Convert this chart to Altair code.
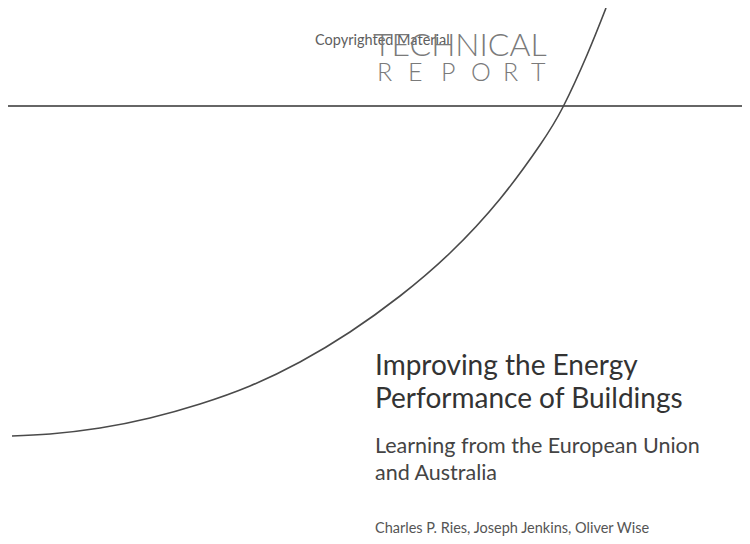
import altair as alt
import pandas as pd

# Arc (page pixel coordinates)
arc_x = [12, 50, 100, 150, 200, 250, 300, 350, 400, 450, 500, 540, 563, 587, 606]
arc_y = [436, 434, 428, 418, 404, 386, 362, 332, 296, 253, 199, 145, 107, 55, 8]

# Horizontal rule
rule_x = [8]
rule_x2 = [750]
rule_y = [106]

# Spaced heading letters
report_letters = ["R", "E", "P", "O", "R", "T"]
report_x = [377, 408, 441, 471, 503, 531]
report_y = [81, 81, 81, 81, 81, 81]

# Texts
texts = ["Copyrighted Material", "TECHNICAL",
         "Improving the Energy", "Performance of Buildings",
         "Learning from the European Union", "and Australia",
         "Charles P. Ries, Joseph Jenkins, Oliver Wise"]
text_x = [315, 373, 375, 375, 375, 375, 375]
text_y = [45, 56, 375, 408, 453, 480, 533]
text_size = [14.5, 32, 28, 28, 21.5, 21.5, 14.5]
text_color = ["#5e5e5e", "#7a7a7a", "#333333", "#333333",
              "#444444", "#444444", "#555555"]
text_weight = [400, 300, 400, 400, 400, 400, 400]

xs = alt.Scale(domain=[8, 742], range=[0, 734])
ys = alt.Scale(domain=[8, 536], range=[0, 528])

arc_df = pd.DataFrame({"x": arc_x, "y": arc_y})
rule_df = pd.DataFrame({"x": rule_x, "x2": rule_x2, "y": rule_y})
rep_df = pd.DataFrame({"x": report_x, "y": report_y, "t": report_letters})

arc = alt.Chart(arc_df).mark_line(
    color="#4a4a4a", strokeWidth=1.6, interpolate="natural", clip=False
).encode(
    x=alt.X("x:Q", scale=xs, axis=None),
    y=alt.Y("y:Q", scale=ys, axis=None),
)

rule = alt.Chart(rule_df).mark_rule(color="#666666", strokeWidth=2).encode(
    x=alt.X("x:Q", scale=xs, axis=None),
    x2="x2:Q",
    y=alt.Y("y:Q", scale=ys, axis=None),
)

report = alt.Chart(rep_df).mark_text(
    align="left", baseline="alphabetic", font="Lato",
    fontSize=25, color="#7a7a7a", fontWeight=300, clip=False
).encode(
    x=alt.X("x:Q", scale=xs, axis=None),
    y=alt.Y("y:Q", scale=ys, axis=None),
    text="t:N",
)

layers = [rule, arc, report]
for t, tx, ty, sz, col, wt in zip(texts, text_x, text_y, text_size, text_color, text_weight):
    df = pd.DataFrame({"x": [tx], "y": [ty], "t": [t]})
    layers.append(
        alt.Chart(df).mark_text(
            align="left", baseline="alphabetic", font="Lato",
            fontSize=sz, color=col, fontWeight=wt, clip=False
        ).encode(
            x=alt.X("x:Q", scale=xs, axis=None),
            y=alt.Y("y:Q", scale=ys, axis=None),
            text="t:N",
        )
    )

chart = alt.layer(*layers).properties(
    width=734, height=528, padding=0,
    autosize=alt.AutoSizeParams(type="none"),
).configure_view(strokeWidth=0, stroke="transparent", fill="transparent")

chart.save("out.html", embed_options={"renderer": "svg", "actions": False})
